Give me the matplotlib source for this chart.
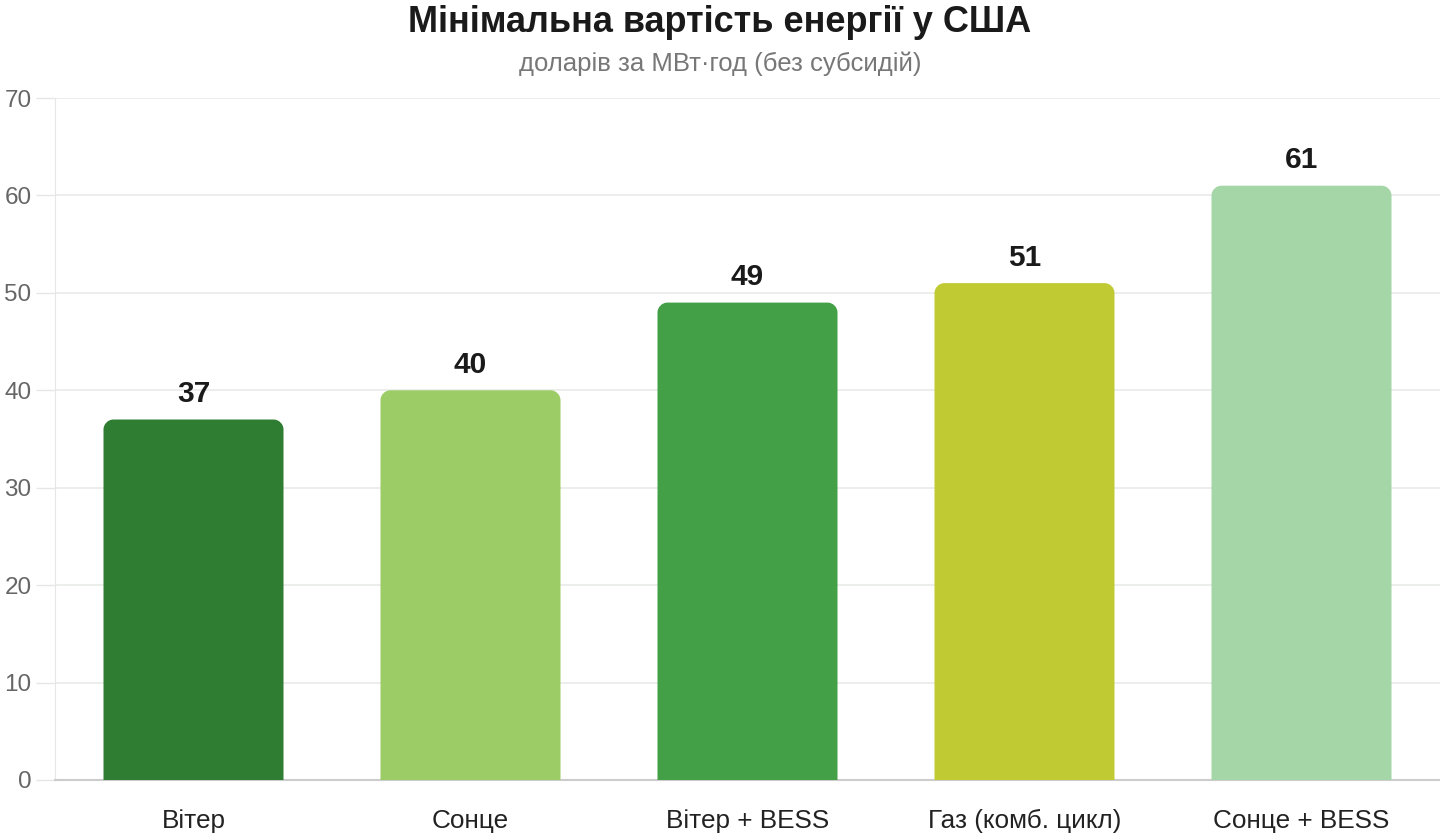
import matplotlib
matplotlib.use("Agg")
import matplotlib.pyplot as plt
from matplotlib.patches import PathPatch
from matplotlib.path import Path

plt.rcParams['font.family'] = ['Liberation Sans', 'DejaVu Sans']

# - - - - - - - - - - - - - - - - - - - - - - - - - - - - - - - - - - - - - - - - - - #
categories = ["Вітер", "Сонце", "Вітер + BESS", "Газ (комб. цикл)", "Сонце + BESS"]
values = [37, 40, 49, 51, 61]
colors = ["#2e7d32", "#9ccc65", "#43a047", "#c0ca33", "#a5d6a7"]
yticks = [0, 10, 20, 30, 40, 50, 60, 70]

title = "Мінімальна вартість енергії у США"
subtitle = "доларів за МВт·год (без субсидій)"
# - - - - - - - - - - - - - - - - - - - - - - - - - - - - - - - - - - - - - - - - - - #

def rounded_top_bar(ax, x, h, w, color, rx, ry):
    # bar with rounded top corners only (rx in data-x units, ry in data-y units)
    x0, x1 = x - w / 2, x + w / 2
    k = 0.55
    verts = [
        (x0, 0), (x0, h - ry),
        (x0, h - ry + k * ry), (x0 + rx - k * rx, h), (x0 + rx, h),
        (x1 - rx, h),
        (x1 - rx + k * rx, h), (x1, h - ry + k * ry), (x1, h - ry),
        (x1, 0), (x0, 0),
    ]
    codes = [Path.MOVETO, Path.LINETO,
             Path.CURVE4, Path.CURVE4, Path.CURVE4,
             Path.LINETO,
             Path.CURVE4, Path.CURVE4, Path.CURVE4,
             Path.LINETO, Path.CLOSEPOLY]
    ax.add_patch(PathPatch(Path(verts, codes), facecolor=color, edgecolor="none", zorder=3))


fig = plt.figure(figsize=(14.4, 8.4), dpi=100)
ax = fig.add_axes([55 / 1440, 60 / 840, 1385 / 1440, 682 / 840])

ymax = 70
ax.set_xlim(-0.5, len(categories) - 0.5)
ax.set_ylim(0, ymax)

bar_w = 180 / 277
rx = 10 / 277
ry = 10 * ymax / 682
for i, (v, c) in enumerate(zip(values, colors)):
    rounded_top_bar(ax, i, v, bar_w, c, rx, ry)
    ax.text(i, v + 1.8, str(v), ha="center", va="baseline", fontsize=21.5,
            fontweight="bold", color="#1a1a1a", zorder=4)

ax.set_yticks(yticks)
ax.set_yticklabels([str(t) for t in yticks], fontsize=17.5, color="#666666")
ax.set_xticks(range(len(categories)))
ax.set_xticklabels(categories, fontsize=18.8, color="#222222")
ax.tick_params(axis="x", length=0, pad=21)
ax.tick_params(axis="y", length=14, color="#e6e6e6", width=1, pad=3)

ax.grid(axis="y", color="#e8ebe8", linewidth=1.2, zorder=0)
ax.set_axisbelow(True)
for s in ["top", "right"]:
    ax.spines[s].set_visible(False)
ax.spines["left"].set_color("#e6e6e6")
ax.spines["bottom"].set_color("#cccccc")
ax.spines["bottom"].set_linewidth(1.5)

fig.text(0.5, 1 - 23 / 840, title, ha="center", va="center", fontsize=26,
         fontweight="bold", color="#1a1a1a")
fig.text(0.5, 1 - 64 / 840, subtitle, ha="center", va="center", fontsize=18.5,
         color="#777777")

fig.savefig("out.png", dpi=100)
